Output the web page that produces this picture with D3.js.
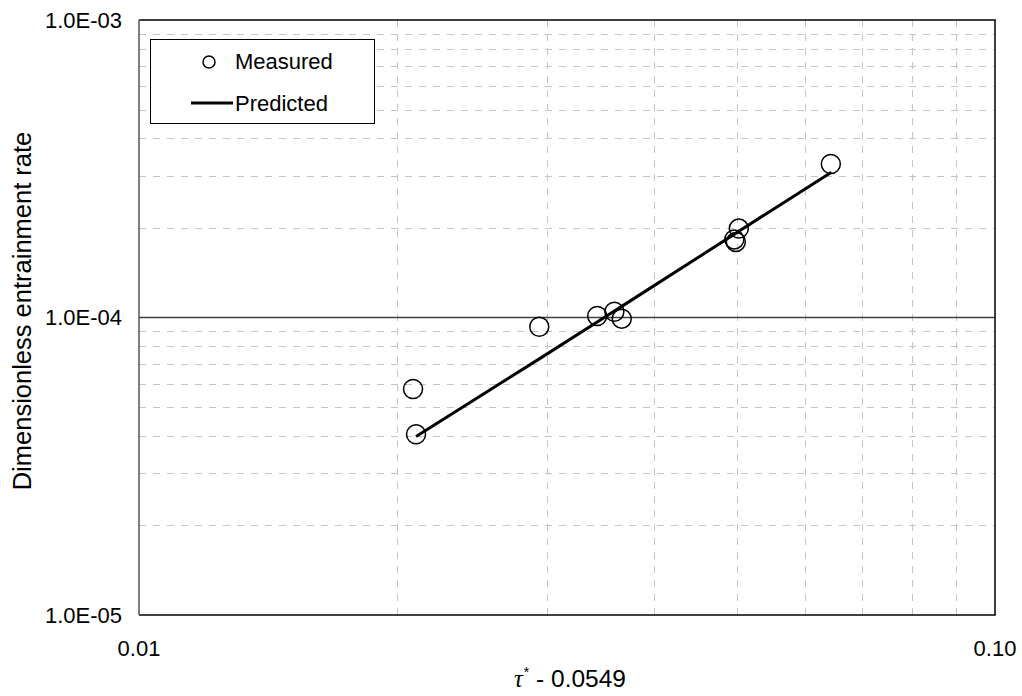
<!DOCTYPE html>
<html>
<head>
<meta charset="utf-8">
<script src="https://cdn.jsdelivr.net/npm/d3@7"></script>
<style>
  html, body { margin: 0; padding: 0; background: #fff; }
  svg { display: block; font-family: "Liberation Sans", Arial, sans-serif; }
</style>
</head>
<body>
<svg id="chart" width="1022" height="696"></svg>
<script>
// Measured entrainment rates
const measuredX = [0.0209, 0.02107, 0.02935, 0.0343, 0.03592, 0.03664, 0.0496, 0.0498, 0.0502, 0.0643];
const measuredY = [5.75e-5, 4.05e-5, 9.31e-5, 1.012e-4, 1.046e-4, 9.91e-5, 1.83e-4, 1.795e-4, 1.99e-4, 3.28e-4];

// Predicted entrainment rates
const predictedX = [0.02107, 0.02935, 0.0343, 0.03592, 0.03664, 0.0496, 0.0502, 0.0644];
const predictedY = [3.98e-5, 7.26e-5, 9.66e-5, 1.051e-4, 1.09e-4, 1.905e-4, 1.95e-4, 3.08e-4];

// Axis ticks
const xTicks = [0.01, 0.1];
const xTickLabels = ["0.01", "0.10"];
const yTicks = [1e-5, 1e-4, 1e-3];
const yTickLabels = ["1.0E-05", "1.0E-04", "1.0E-03"];
const xMinor = [0.02, 0.03, 0.04, 0.05, 0.06, 0.07, 0.08, 0.09];
const yMinor = [2e-5, 3e-5, 4e-5, 5e-5, 6e-5, 7e-5, 8e-5, 9e-5, 2e-4, 3e-4, 4e-4, 5e-4, 6e-4, 7e-4, 8e-4, 9e-4];

const plot = { left: 139, right: 995, top: 20, bottom: 615 };

const svg = d3.select("#chart");
const x = d3.scaleLog().domain([0.01, 0.1]).range([plot.left, plot.right]);
const y = d3.scaleLog().domain([1e-5, 1e-3]).range([plot.bottom, plot.top]);

// Minor gridlines (dashed)
const grid = svg.append("g").attr("stroke", "#c4c4c4").attr("stroke-width", 1).attr("stroke-dasharray", "7,7");
grid.selectAll("line.vx").data(xMinor).join("line")
  .attr("x1", d => Math.round(x(d)) + 0.5).attr("x2", d => Math.round(x(d)) + 0.5)
  .attr("y1", plot.top).attr("y2", plot.bottom);
grid.selectAll("line.hy").data(yMinor).join("line")
  .attr("x1", plot.left).attr("x2", plot.right)
  .attr("y1", d => Math.round(y(d)) + 0.5).attr("y2", d => Math.round(y(d)) + 0.5);

// Major horizontal gridline
svg.append("g").selectAll("line").data(yTicks.filter(d => d > 1e-5 && d < 1e-3)).join("line")
  .attr("x1", plot.left).attr("x2", plot.right)
  .attr("y1", d => Math.round(y(d)) + 0.5).attr("y2", d => Math.round(y(d)) + 0.5)
  .attr("stroke", "#404040").attr("stroke-width", 1.3);

// Plot frame
svg.append("line").attr("x1", plot.left).attr("x2", plot.right + 0.75).attr("y1", plot.top).attr("y2", plot.top)
  .attr("stroke", "#000").attr("stroke-width", 1.5);
svg.append("line").attr("x1", plot.right).attr("x2", plot.right).attr("y1", plot.top).attr("y2", plot.bottom)
  .attr("stroke", "#000").attr("stroke-width", 1.5);
svg.append("line").attr("x1", plot.left).attr("x2", plot.right + 0.75).attr("y1", plot.bottom).attr("y2", plot.bottom)
  .attr("stroke", "#000").attr("stroke-width", 1.5);
svg.append("line").attr("x1", plot.left).attr("x2", plot.left).attr("y1", plot.top).attr("y2", plot.bottom)
  .attr("stroke", "#555").attr("stroke-width", 1.5);

// Tick labels
svg.append("g").selectAll("text").data(xTicks).join("text")
  .attr("x", d => x(d)).attr("y", 656)
  .attr("text-anchor", "middle").attr("font-size", 22).attr("fill", "#000")
  .text((d, i) => xTickLabels[i]);
svg.append("g").selectAll("text").data(yTicks).join("text")
  .attr("x", 122).attr("y", d => y(d) + 7.5)
  .attr("text-anchor", "end").attr("font-size", 22).attr("fill", "#000")
  .text((d, i) => yTickLabels[i]);

// Axis titles
svg.append("text")
  .attr("transform", "translate(31,311) rotate(-90)")
  .attr("text-anchor", "middle").attr("font-size", 25.5).attr("fill", "#000")
  .text("Dimensionless entrainment rate");

const xt = svg.append("text").attr("x", 514).attr("y", 687).attr("font-size", 24.5).attr("fill", "#000");
xt.append("tspan").attr("font-family", "'Liberation Serif', 'DejaVu Serif', serif").attr("font-style", "italic").text("τ");
xt.append("tspan").attr("dx", 1).attr("dy", -10).attr("font-size", 14).text("*");
xt.append("tspan").attr("dy", 10).text(" - 0.0549");

// Measured points
svg.append("g").selectAll("circle").data(measuredX).join("circle")
  .attr("cx", d => x(d)).attr("cy", (d, i) => y(measuredY[i])).attr("r", 9.5)
  .attr("fill", "none").attr("stroke", "#000").attr("stroke-width", 1.5);

// Predicted line
const line = d3.line().x(d => x(d[0])).y(d => y(d[1]));
svg.append("path").datum(predictedX.map((d, i) => [d, predictedY[i]]))
  .attr("d", line).attr("fill", "none").attr("stroke", "#000").attr("stroke-width", 3);

// Legend
const lg = svg.append("g");
lg.append("rect").attr("x", 150.5).attr("y", 39.5).attr("width", 224).attr("height", 84)
  .attr("fill", "#fff").attr("stroke", "#000").attr("stroke-width", 1);
lg.append("circle").attr("cx", 209).attr("cy", 62).attr("r", 6)
  .attr("fill", "none").attr("stroke", "#000").attr("stroke-width", 1.5);
lg.append("text").attr("x", 235).attr("y", 69).attr("font-size", 22).attr("fill", "#000").text("Measured");
lg.append("line").attr("x1", 191).attr("x2", 233).attr("y1", 103).attr("y2", 103)
  .attr("stroke", "#000").attr("stroke-width", 3);
lg.append("text").attr("x", 235).attr("y", 111).attr("font-size", 22).attr("fill", "#000").text("Predicted");
</script>
</body>
</html>
